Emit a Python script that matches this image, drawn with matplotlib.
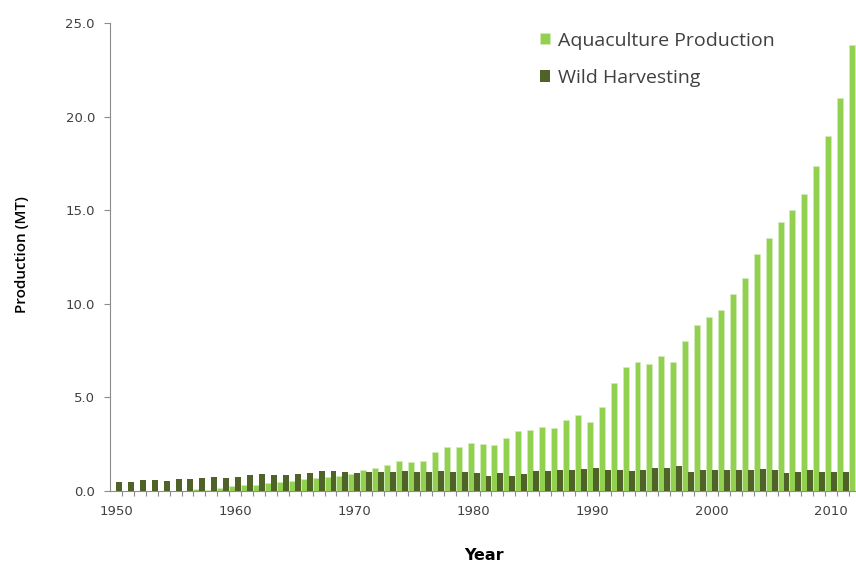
import numpy as np
import matplotlib.pyplot as plt

# data (million tonnes)
years = np.arange(1950, 2012)
wild = [0.46, 0.46, 0.59, 0.59, 0.53, 0.64, 0.64, 0.71, 0.77, 0.71,
        0.77, 0.84, 0.89, 0.84, 0.84, 0.89, 0.96, 1.07, 1.07, 1.00,
        0.94, 1.00, 1.00, 1.00, 1.07, 1.00, 1.00, 1.07, 1.00, 1.00,
        0.94, 0.82, 0.94, 0.82, 0.89, 1.07, 1.07, 1.12, 1.12, 1.18,
        1.25, 1.12, 1.12, 1.05, 1.12, 1.25, 1.25, 1.32, 1.00, 1.12,
        1.12, 1.12, 1.12, 1.12, 1.18, 1.12, 0.94, 1.00, 1.12, 1.00,
        1.00, 1.00]
aqua = [0.00, 0.00, 0.00, 0.00, 0.00, 0.00, 0.09, 0.05, 0.18, 0.28,
        0.34, 0.34, 0.41, 0.46, 0.53, 0.64, 0.71, 0.77, 0.82, 0.89,
        1.12, 1.25, 1.37, 1.60, 1.53, 1.60, 2.10, 2.33, 2.33, 2.56,
        2.51, 2.46, 2.81, 3.19, 3.24, 3.42, 3.37, 3.78, 4.08, 3.70,
        4.51, 5.77, 6.62, 6.91, 6.80, 7.21, 6.91, 8.00, 8.85, 9.28,
        9.69, 10.52, 11.40, 12.66, 13.50, 14.35, 15.01, 15.87, 17.38, 18.98,
        20.98, 23.81]
decades = [1950, 1960, 1970, 1980, 1990, 2000, 2010]

light = '#92D050'
dark = '#4F6228'
grey = '#8c8c8c'

fig = plt.figure(figsize=(8.56, 5.63), dpi=100)
ax = fig.add_axes([110 / 856, 72 / 563, 746 / 856, 468 / 563])

ax.bar(years, aqua, width=0.5, align='edge', color=light,
       edgecolor='#d4ecbc', linewidth=0.5, label='Aquaculture Production', zorder=2)
ax.bar(years, wild, width=-0.5, align='edge', color=dark,
       linewidth=0, label='Wild Harvesting', zorder=3)

ax.set_xlim(1949, 2011.58)
ax.set_ylim(0, 25)

ax.set_yticks(np.arange(0, 26, 5))
ax.set_yticklabels(['%.1f' % v for v in np.arange(0, 26, 5)])
ax.tick_params(axis='y', length=4.3, width=0.8, color=grey, pad=6.5,
               labelsize=9.5, labelcolor='#404040')

# yearly ticks without labels, decade labels sit half a bar to the left
ax.set_xticks(years, minor=True)
ax.set_xticks([d - 0.5 for d in decades])
ax.set_xticklabels([str(d) for d in decades])
ax.tick_params(axis='x', which='minor', length=3.6, width=0.8, color=grey)
ax.tick_params(axis='x', which='major', length=0, pad=10,
               labelsize=9.5, labelcolor='#404040')

for s in ['top', 'right']:
    ax.spines[s].set_visible(False)
for s in ['left', 'bottom']:
    ax.spines[s].set_color(grey)
    ax.spines[s].set_linewidth(0.8)

fig.text(22 / 856, 1 - 255 / 563, 'Production (MT)', rotation=90,
         ha='center', va='center', fontsize=11, fontweight='semibold',
         family='Open Sans')
fig.text(484 / 856, 1 - 555 / 563, 'Year', ha='center', va='center',
         fontsize=11.5, fontweight='bold')

ax.legend(loc='upper left', bbox_to_anchor=(522 / 856, 1 - 14 / 563),
          bbox_transform=fig.transFigure, frameon=False,
          handlelength=0.55, handleheight=0.55, handletextpad=0.38,
          labelspacing=1.0, prop={'family': 'Open Sans', 'size': 14},
          labelcolor='#404040')

fig.savefig('out.png', dpi=100)
